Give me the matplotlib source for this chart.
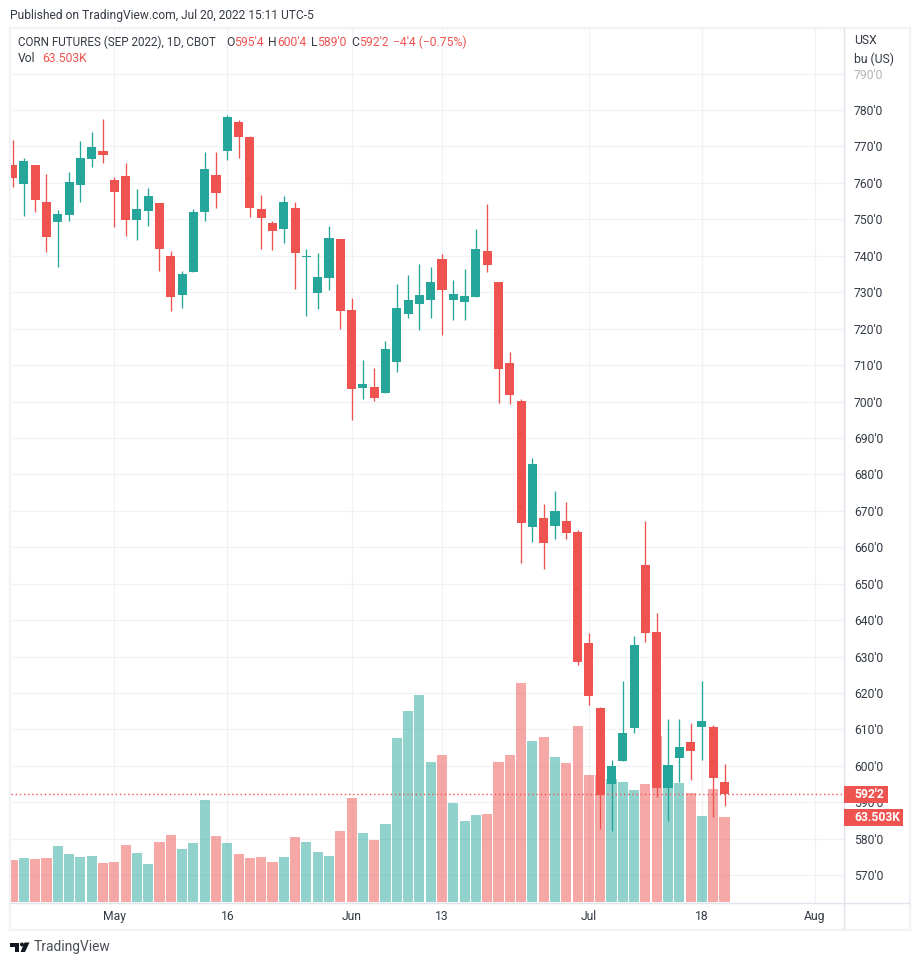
import matplotlib
matplotlib.use('Agg')
import matplotlib.pyplot as plt
from matplotlib.patches import Rectangle, Polygon, Circle
from matplotlib.transforms import Affine2D

W, H = 920, 965
RED = '#ef5350'
GREEN = '#26a69a'
GRID = '#f1f2f6'
LINE = '#e0e3eb'
TEXT = '#333a44'

# one row per session, first one cut by the left edge; index 0 is May 2
opens = [764.9, 759.7, 764.9, 754.7, 749.3, 751.2, 759.4, 766.6, 768.7,
         760.8, 761.9, 749.8, 752.3, 754.5, 739.9, 729.2, 735.5, 752.0, 762.2,
         768.7, 776.7, 772.6, 752.8, 749.0, 747.3, 753.1, 739.6, 729.8, 733.9,
         744.6, 725.1, 703.7, 703.9, 702.3, 710.8, 724.0, 726.7, 727.8, 739.1,
         727.8, 727.3, 728.7, 741.3, 732.8, 710.5, 700.1, 665.6, 668.0, 665.8,
         667.2, 664.2, 633.6, 616.0, 595.0, 601.3, 610.3, 655.2, 636.8, 593.9,
         602.1, 606.7, 610.6, 610.6, 595.5]
highs = [771.8, 766.8, 764.9, 762.4, 752.6, 763.0, 771.5, 774.0, 777.5,
         761.6, 765.5, 758.3, 758.6, 754.5, 741.3, 735.8, 752.8, 768.5, 768.5,
         778.6, 777.3, 772.9, 756.7, 749.5, 756.4, 754.8, 741.8, 740.8, 748.2,
         744.6, 728.4, 711.4, 709.2, 716.6, 732.2, 734.7, 737.7, 736.9, 740.5,
         733.3, 736.4, 747.3, 754.2, 732.8, 713.6, 700.6, 684.5, 671.9, 675.4,
         672.4, 664.8, 636.6, 616.3, 601.5, 623.4, 635.7, 667.2, 642.0, 612.8,
         613.0, 611.9, 623.4, 611.1, 600.5]
lows = [758.9, 750.9, 752.0, 741.0, 736.9, 749.5, 754.7, 764.4, 765.5,
        747.9, 745.4, 744.3, 748.2, 735.8, 724.8, 725.7, 735.5, 749.5, 753.1,
        766.3, 766.8, 750.6, 741.8, 741.6, 743.5, 730.9, 723.4, 725.4, 730.6,
        719.9, 694.9, 700.6, 700.1, 702.3, 708.1, 722.9, 719.6, 722.9, 718.2,
        722.3, 722.3, 728.7, 735.5, 699.5, 699.3, 655.7, 661.5, 654.1, 662.3,
        662.3, 627.8, 616.6, 582.6, 582.1, 601.3, 608.9, 634.1, 591.4, 584.8,
        595.5, 596.1, 601.5, 585.9, 589.0]
closes = [761.3, 766.0, 755.3, 745.1, 751.5, 760.2, 766.8, 769.8, 767.6,
          757.5, 749.8, 752.8, 756.4, 741.8, 728.7, 735.0, 752.0, 763.8, 757.2,
          778.1, 772.6, 753.1, 750.4, 746.8, 754.7, 740.8, 739.9, 734.2, 744.9,
          724.8, 703.4, 704.8, 700.9, 714.4, 725.6, 727.8, 729.2, 732.8, 730.6,
          729.5, 728.9, 741.8, 737.5, 708.9, 701.7, 666.7, 682.8, 661.2, 670.0,
          663.9, 628.4, 619.3, 592.0, 599.9, 608.9, 633.3, 636.6, 593.9, 600.2,
          605.1, 604.0, 612.2, 596.6, 592.25]
# volume in thousands
volumes = [31.4, 32.9, 32.1, 32.9, 41.8, 35.9, 33.6, 34.4, 29.1,
           29.9, 42.6, 36.6, 28.4, 44.8, 50.0, 39.6, 44.1, 76.2, 49.3,
           44.1, 35.9, 32.9, 33.6, 29.9, 33.6, 48.6, 44.8, 37.4, 34.4,
           53.0, 77.7, 51.5, 46.3, 58.3, 122.5, 142.7, 154.6, 104.6, 109.8,
           74.0, 60.5, 65.0, 65.7, 104.6, 109.8, 163.6, 120.3, 123.3, 108.3,
           103.8, 131.5, 95.1, 95.1, 92.1, 89.9, 83.9, 88.4, 124.3, 90.6,
           89.1, 81.7, 64.5, 84.7, 63.5]
first_session = -9

price_ticks = list(range(570, 800, 10))
date_ticks = [0, 10, 21, 29, 42, 52, 62]
date_labels = ['May', '16', 'Jun', '13', 'Jul', '18', 'Aug']
last_close = 592.25

plt.rcParams['font.family'] = ['Roboto', 'DejaVu Sans']

fig = plt.figure(figsize=(W / 100, H / 100), dpi=100, facecolor='white')
px = Affine2D().scale(1 / W, -1 / H).translate(0, 1) + fig.transFigure


def label(x, y, s, color=TEXT, size=8.7, **kw):
    fig.text(x, y, s, transform=px, color=color, fontsize=size, va='center', **kw)


# pane is x 11-844, y 28-902
left, right, top, bottom = 11, 844.3, 28, 902
pos = [left / W, 1 - bottom / H, (right - left) / W, (bottom - top) / H]
ax_vol = fig.add_axes(pos)
ax = fig.add_axes(pos, sharex=ax_vol)
ax.set_zorder(2)
ax.patch.set_visible(False)

xs = [first_session + i for i in range(len(closes))]
ax_vol.set_xlim(-9.14, 64.6)
ax.set_ylim(562.66, 802.5)
ax_vol.set_ylim(0, 652.9)

# grid sits on the volume axes so the bars cover it
ax_vol.set_yticks([])
for p in price_ticks:
    ax_vol.axhline((p - 562.66) / (802.5 - 562.66) * 652.9, color=GRID, lw=0.85, zorder=0)
for d in date_ticks:
    ax_vol.axvline(d, color=GRID, lw=0.85, zorder=0)

vol_colors = [GREEN if c >= o else RED for o, c in zip(opens, closes)]
ax_vol.bar(xs, volumes, width=0.89, color=vol_colors, alpha=0.5, lw=0, zorder=1)

for x, o, h, l, c in zip(xs, opens, highs, lows, closes):
    col = GREEN if c >= o else RED
    ax.vlines(x, l, h, color=col, lw=0.95, zorder=3)
    ax.bar(x, max(abs(c - o), 0.35), bottom=min(o, c), width=0.8, color=col, lw=0, zorder=4)

ax.axhline(last_close, color=RED, lw=1, ls=(0, (1, 2)), zorder=5)

for a in (ax, ax_vol):
    for s in a.spines.values():
        s.set_visible(False)

ax.yaxis.tick_right()
ax.set_yticks(price_ticks)
ax.set_yticklabels([f"{p}'0" for p in price_ticks], fontsize=8.7, color=TEXT, va='center_baseline')
ax.tick_params(axis='y', length=0, pad=7)
ax.get_yticklabels()[-1].set_color('#b0b3b8')
ax.set_xticks(date_ticks)
ax.set_xticklabels(date_labels, fontsize=8.7, color=TEXT)
ax.tick_params(axis='x', length=0, pad=6)
ax_vol.tick_params(axis='x', length=0, labelbottom=False)

# frame and axis lines
fig.add_artist(Rectangle((10, 28), 900, 901.5, transform=px, fill=False, ec=GRID, lw=1.6))
fig.add_artist(plt.Line2D([right, right], [28, 929], transform=px, color=LINE, lw=1))
fig.add_artist(plt.Line2D([11, 909], [902.5, 902.5], transform=px, color=LINE, lw=1))

# last value badges
fig.add_artist(Rectangle((844.5, 786), 43.5, 17, transform=px, fc=RED, ec='none', zorder=6))
fig.add_artist(Rectangle((844.5, 809), 58.5, 17, transform=px, fc=RED, ec='none', zorder=6))
label(854, 794.5, "592'2", color='white', fontweight='bold', zorder=7)
label(854, 817.5, '63.503K', color='white', fontweight='bold', zorder=7)

label(10, 15, 'Published on TradingView.com, Jul 20, 2022 15:11 UTC-5', size=8.65)
label(18, 42, 'CORN FUTURES (SEP 2022), 1D, CBOT', size=8.35)
for x, s, col in [(226, 'O', TEXT), (234.5, "595'4", RED), (268, 'H', TEXT), (277, "600'4", RED),
                  (311, 'L', TEXT), (317, "589'0", RED), (351.5, 'C', TEXT), (359, "592'2", RED),
                  (393, "\u22124'4 (\u22120.75%)", RED), (18, 'Vol', TEXT), (42, '63.503K', RED)]:
    label(x, 59 if s in ('Vol', '63.503K') else 42, s, color=col)
label(854, 40, 'USX')
label(854, 59, 'bu (US)')

# logo
dark = '#131722'
fig.add_artist(Polygon([(10, 942.5), (19.5, 942.5), (19.5, 952), (15.5, 952), (15.5, 946.5), (10, 946.5)],
                       closed=True, transform=px, fc=dark, ec='none'))
fig.add_artist(Circle((22, 944.5), 2, transform=px, fc=dark, ec='none'))
fig.add_artist(Polygon([(24.5, 942.5), (29.5, 942.5), (25, 952), (20.5, 952)],
                       closed=True, transform=px, fc=dark, ec='none'))
label(33.5, 947.5, 'TradingView', color='#4a4e57', size=9.9)

fig.savefig('out.png', dpi=100)
